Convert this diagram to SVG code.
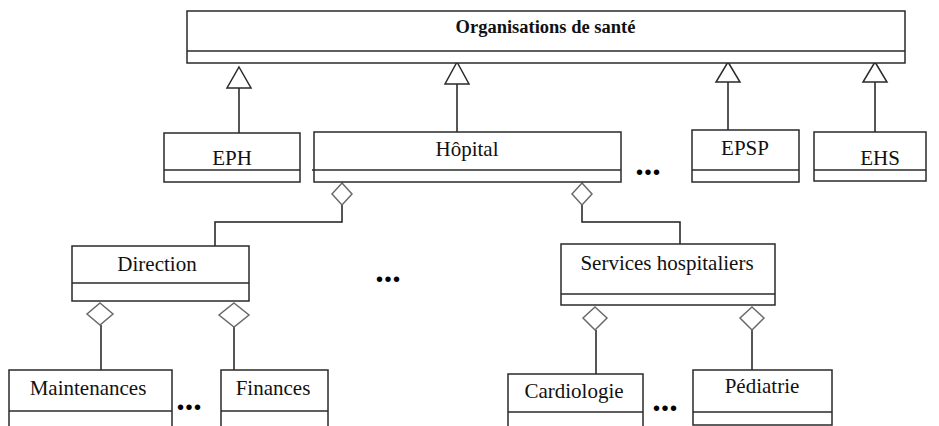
<svg xmlns="http://www.w3.org/2000/svg" width="939" height="426" viewBox="0 0 939 426">
  <style>
    .box { fill: #ffffff; stroke: #2a2a2a; stroke-width: 1.5; }
    .div { fill: none; stroke: #2a2a2a; stroke-width: 1.5; }
    .lbl { font-family: "Liberation Serif", "Times New Roman", serif; font-size: 21px; fill: #111; text-anchor: middle; }
    .title { font-family: "Liberation Serif", "Times New Roman", serif; font-size: 18.5px; font-weight: bold; fill: #111; text-anchor: middle; }
    .dots { font-family: "Liberation Serif", "Times New Roman", serif; font-size: 34px; font-weight: bold; fill: #000; text-anchor: middle; }
    .link { fill: none; stroke: #1e1e1e; stroke-width: 1.5; }
    .gen { fill: #ffffff; stroke: #2a2a2a; stroke-width: 1.5; stroke-linejoin: miter; }
    .agg { fill: #ffffff; stroke: #6a6a6a; stroke-width: 1.5; }
  </style>

  <!-- connectors -->
  <g id="connectors">
    <!-- generalisation lines -->
    <line class="link" x1="239" y1="88" x2="239" y2="133"/>
    <line class="link" x1="457" y1="84" x2="457" y2="132"/>
    <line class="link" x1="728" y1="82" x2="728" y2="130"/>
    <line class="link" x1="875" y1="82" x2="875" y2="132"/>
    <polygon class="gen" points="239,67 251,88 227,88"/>
    <polygon class="gen" points="457,62 469,84 445,84"/>
    <polygon class="gen" points="728,62 740,82 716,82"/>
    <polygon class="gen" points="875,62 887,82 863,82"/>

    <!-- aggregation: Hôpital parts -->
    <polyline class="link" points="342,205 342,222 215,222 215,246"/>
    <polyline class="link" points="582,205 582,222 680,222 680,244"/>
    <polygon class="agg" points="342,183 352,194 342,205 332,194"/>
    <polygon class="agg" points="582,183 592,194 582,205 572,194"/>

    <!-- aggregation: Direction parts -->
    <line class="link" x1="101" y1="325" x2="101" y2="370"/>
    <line class="link" x1="234" y1="327" x2="234" y2="370"/>
    <polygon class="agg" points="100,303 113,314 100,325 87,314"/>
    <polygon class="agg" points="234,303 249,315 234,327 219,315"/>

    <!-- aggregation: Services hospitaliers parts -->
    <line class="link" x1="596" y1="330" x2="596" y2="374"/>
    <line class="link" x1="752" y1="330" x2="752" y2="370"/>
    <polygon class="agg" points="595,307 607,318 595,330 583,318"/>
    <polygon class="agg" points="752,307 764,318 752,330 740,318"/>
  </g>

  <g id="organisations">
    <rect class="box" x="187" y="11" width="718" height="52"/>
    <line class="div" x1="187" y1="51" x2="905" y2="51"/>
    <text class="title" x="545.5" y="33">Organisations de santé</text>
  </g>

  <g id="eph">
    <rect class="box" x="164" y="133" width="136" height="49"/>
    <line class="div" x1="164" y1="170" x2="300" y2="170"/>
    <text class="lbl" x="232" y="165">EPH</text>
  </g>

  <g id="hopital">
    <rect class="box" x="314" y="132" width="307" height="50"/>
    <line class="div" x1="312" y1="170" x2="621" y2="170"/>
    <text class="lbl" x="467" y="156">Hôpital</text>
  </g>

  <g id="epsp">
    <rect class="box" x="692" y="130" width="107" height="52"/>
    <line class="div" x1="692" y1="170" x2="799" y2="170"/>
    <text class="lbl" x="745" y="155">EPSP</text>
  </g>

  <g id="ehs">
    <rect class="box" x="814" y="132" width="112" height="49"/>
    <line class="div" x1="814" y1="170" x2="926" y2="170"/>
    <text class="lbl" x="880" y="165">EHS</text>
  </g>

  <g id="direction">
    <rect class="box" x="72" y="246" width="177" height="55"/>
    <line class="div" x1="72" y1="283" x2="249" y2="283"/>
    <text class="lbl" x="157" y="271">Direction</text>
  </g>

  <g id="services">
    <rect class="box" x="561" y="244" width="214" height="61"/>
    <line class="div" x1="561" y1="294" x2="775" y2="294"/>
    <text class="lbl" x="667" y="270">Services hospitaliers</text>
  </g>

  <g id="maintenances">
    <rect class="box" x="9" y="370" width="163" height="70"/>
    <line class="div" x1="9" y1="411" x2="172" y2="411"/>
    <text class="lbl" x="88" y="395">Maintenances</text>
  </g>

  <g id="finances">
    <rect class="box" x="221" y="370" width="107" height="70"/>
    <line class="div" x1="221" y1="411" x2="328" y2="411"/>
    <text class="lbl" x="273" y="395">Finances</text>
  </g>

  <g id="cardiologie">
    <rect class="box" x="508" y="374" width="135" height="70"/>
    <line class="div" x1="508" y1="412" x2="643" y2="412"/>
    <text class="lbl" x="574" y="398">Cardiologie</text>
  </g>

  <g id="pediatrie">
    <rect class="box" x="693" y="370" width="139" height="55"/>
    <line class="div" x1="693" y1="412" x2="832" y2="412"/>
    <text class="lbl" x="762" y="393">Pédiatrie</text>
  </g>

  <!-- ellipsis marks -->
  <text class="dots" x="648" y="175">...</text>
  <text class="dots" x="388" y="282">...</text>
  <text class="dots" x="189" y="410">...</text>
  <text class="dots" x="665" y="411">...</text>
</svg>
